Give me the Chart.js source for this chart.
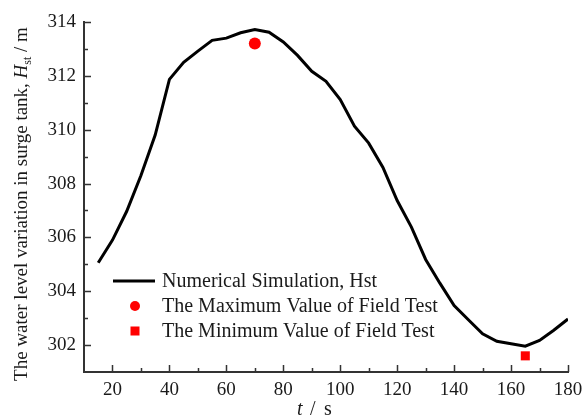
<!DOCTYPE html>
<html>
<head>
<meta charset="utf-8">
<script src="https://cdn.jsdelivr.net/npm/chart.js@4"></script>
<style>
  html, body { margin: 0; padding: 0; background: #ffffff; }
  #wrap { width: 583px; height: 416px; }
</style>
</head>
<body>
<div id="wrap"><canvas id="c" width="583" height="416"></canvas></div>
<script>
// ---- data ----
const timeS = [15, 20, 25, 30, 35, 40, 45, 50, 55, 60, 65, 70, 75, 80, 85, 90, 95, 100,
  105, 110, 115, 120, 125, 130, 135, 140, 145, 150, 155, 160, 165, 170, 175, 180];
const hstSim = [305.06, 305.9, 306.97, 308.3, 309.8, 311.87, 312.5, 312.92, 313.32, 313.4,
  313.6, 313.72, 313.62, 313.26, 312.76, 312.17, 311.8, 311.12, 310.13, 309.5, 308.6,
  307.37, 306.38, 305.18, 304.3, 303.47, 302.94, 302.42, 302.14, 302.05, 301.96, 302.17,
  302.55, 302.97];
const fieldMax = [{ x: 70, y: 313.2 }];
const fieldMin = [{ x: 165, y: 301.6 }];

const xTicks = [20, 40, 60, 80, 100, 120, 140, 160, 180];
const yTicks = [302, 304, 306, 308, 310, 312, 314];

const SERIF = "'Liberation Serif', 'Times New Roman', serif";
const INK = "#1a1a1a";
const AXIS = "#333333";
const RED = "#ff0000";

// inward ticks, custom legend and axis titles
const decor = {
  id: "decor",
  afterDraw(chart) {
    const { ctx, chartArea: a, scales: { x, y } } = chart;
    ctx.save();
    ctx.strokeStyle = AXIS;
    ctx.lineWidth = 1.5;
    ctx.beginPath();
    for (let v = 20; v <= 180; v += 10) {
      const px = Math.round(x.getPixelForValue(v)) + 0.5;
      const len = v % 20 === 0 ? 7 : 4;
      ctx.moveTo(px, a.bottom);
      ctx.lineTo(px, a.bottom - len);
    }
    for (let v = 302; v <= 314; v += 1) {
      const py = Math.round(y.getPixelForValue(v)) + 0.5;
      const len = v % 2 === 0 ? 7 : 4;
      ctx.moveTo(a.left, py);
      ctx.lineTo(a.left + len, py);
    }
    ctx.stroke();

    // legend
    const lx = 113, ly = 281, rowH = 25;
    ctx.strokeStyle = "#000";
    ctx.lineWidth = 3;
    ctx.beginPath();
    ctx.moveTo(lx, ly);
    ctx.lineTo(lx + 42, ly);
    ctx.stroke();
    ctx.fillStyle = RED;
    ctx.beginPath();
    ctx.arc(lx + 22, ly + rowH, 5, 0, Math.PI * 2);
    ctx.fill();
    ctx.fillRect(lx + 22 - 4.5, ly + rowH * 2 - 4.5, 9, 9);

    ctx.fillStyle = INK;
    ctx.font = "20px " + SERIF;
    ctx.textBaseline = "middle";
    ctx.textAlign = "left";
    const labels = chart.data.datasets.map((d) => d.label);
    labels.forEach((t, i) => ctx.fillText(t, lx + 49, ly + rowH * i + 1));

    // x title: t / s
    ctx.textBaseline = "alphabetic";
    ctx.font = "italic 20px " + SERIF;
    ctx.fillText("t", 297, 415);
    ctx.font = "20px " + SERIF;
    ctx.fillText("/", 310, 415);
    ctx.fillText("s", 324, 415);

    // y title, rotated, with italic H and subscript st
    const parts = [
      { s: "The water level variation in surge tank, ", f: "19px " + SERIF, dy: 0 },
      { s: "H", f: "italic 19px " + SERIF, dy: 0 },
      { s: "st", f: "12px " + SERIF, dy: 4 },
      { s: " / m", f: "19px " + SERIF, dy: 0 },
    ];
    let total = 0;
    parts.forEach((p) => { ctx.font = p.f; p.w = ctx.measureText(p.s).width; total += p.w; });
    ctx.translate(27, 204);
    ctx.rotate(-Math.PI / 2);
    let cx = -total / 2;
    parts.forEach((p) => {
      ctx.font = p.f;
      ctx.fillText(p.s, cx, p.dy);
      cx += p.w;
    });
    ctx.restore();
  },
};

new Chart(document.getElementById("c"), {
  type: "line",
  data: {
    datasets: [
      {
        label: "Numerical Simulation, Hst",
        data: timeS.map((t, i) => ({ x: t, y: hstSim[i] })),
        borderColor: "#000",
        borderWidth: 3,
        pointRadius: 0,
        tension: 0,
        fill: false,
      },
      {
        label: "The Maximum Value of Field Test",
        data: fieldMax,
        showLine: false,
        pointStyle: "circle",
        pointRadius: 6,
        backgroundColor: RED,
        borderWidth: 0,
      },
      {
        label: "The Minimum Value of Field Test",
        data: fieldMin,
        showLine: false,
        pointStyle: "rect",
        pointRadius: 6.4,
        backgroundColor: RED,
        borderWidth: 0,
      },
    ],
  },
  options: {
    responsive: false,
    animation: false,
    layout: { padding: { left: 0, top: 22, right: 15, bottom: 0 } },
    plugins: { legend: { display: false }, tooltip: { enabled: false } },
    scales: {
      x: {
        type: "linear",
        min: 10,
        max: 180,
        afterBuildTicks: (s) => { s.ticks = xTicks.map((v) => ({ value: v })); },
        afterFit: (s) => { s.height = 44; s.paddingLeft = 0; s.paddingRight = 0; },
        grid: { display: false, drawTicks: false },
        border: { display: true, color: AXIS, width: 2 },
        ticks: { color: INK, padding: 7, maxRotation: 0, autoSkip: false, font: { family: SERIF, size: 19 } },
      },
      y: {
        min: 301,
        max: 314,
        afterBuildTicks: (s) => { s.ticks = yTicks.map((v) => ({ value: v })); },
        afterFit: (s) => { s.width = 84; s.paddingTop = 0; s.paddingBottom = 0; },
        grid: { display: false, drawTicks: false },
        border: { display: true, color: AXIS, width: 2 },
        ticks: { color: INK, padding: 8, autoSkip: false, font: { family: SERIF, size: 19 } },
      },
    },
  },
  plugins: [decor],
});
</script>
</body>
</html>
